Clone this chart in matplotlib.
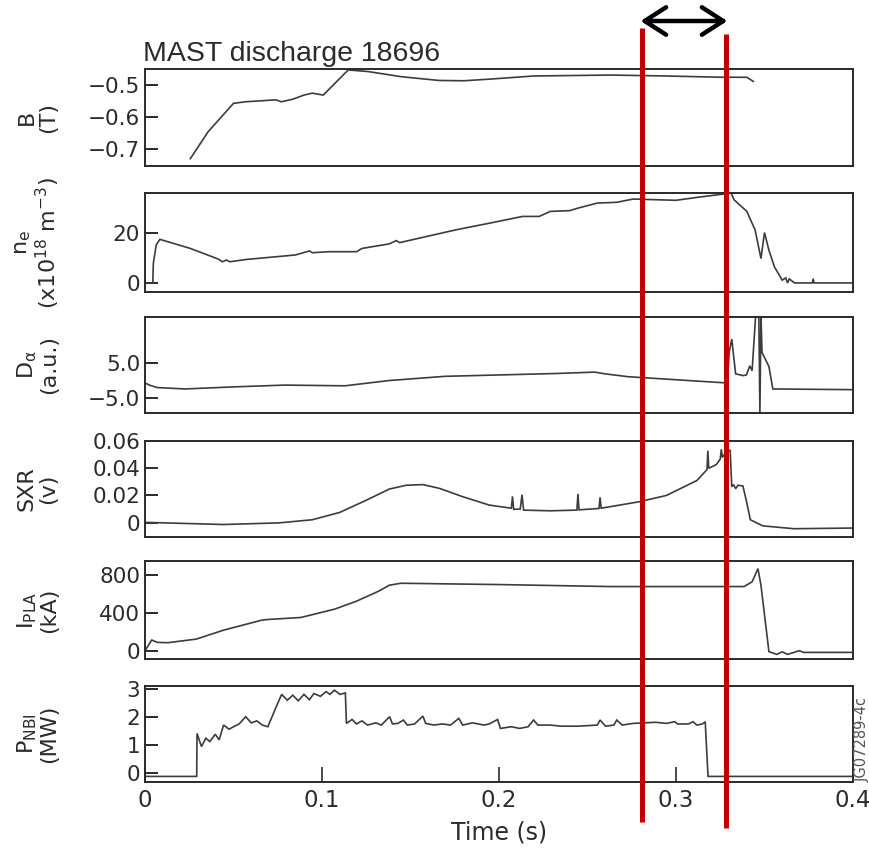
import matplotlib
matplotlib.use("Agg")
import matplotlib.pyplot as plt
from matplotlib.transforms import blended_transform_factory
from matplotlib.lines import Line2D

# ---- toroidal field B (T) ----
b_time = [0.0256, 0.0357, 0.050, 0.057, 0.074, 0.077, 0.0835, 0.0898, 0.0945, 0.1007,
          0.1148, 0.126, 0.1445, 0.166, 0.180, 0.1945, 0.2195, 0.263, 0.2946, 0.326, 0.340, 0.3437]
b_field = [-0.732, -0.647, -0.558, -0.553, -0.547, -0.553, -0.545, -0.532, -0.526, -0.532,
           -0.453, -0.458, -0.474, -0.486, -0.487, -0.482, -0.472, -0.469, -0.472, -0.476, -0.476, -0.489]

# ---- line-averaged density (1e18 m^-3) ----
ne_time = [0.0, 0.0044, 0.0047, 0.0063, 0.0084, 0.0256, 0.0413, 0.0438, 0.046, 0.048, 0.057,
           0.0694, 0.085, 0.093, 0.0945, 0.104, 0.1195, 0.1226, 0.138, 0.142, 0.1439, 0.157,
           0.1758, 0.1945, 0.2133, 0.2227, 0.229, 0.240, 0.2446, 0.2555, 0.2665, 0.2758, 0.300,
           0.3134, 0.326, 0.331, 0.3328, 0.340, 0.3447, 0.348, 0.350, 0.3525, 0.3556, 0.360,
           0.362, 0.363, 0.364, 0.367, 0.377, 0.3775, 0.378, 0.400]
ne_vals = [0.0, 0.0, 7.7, 15.0, 17.3, 13.7, 9.5, 8.4, 9.1, 8.4, 9.3,
           10.1, 11.1, 12.7, 12.0, 12.4, 12.4, 13.7, 15.5, 16.8, 16.0, 18.1,
           21.1, 23.7, 26.4, 26.4, 28.4, 28.7, 29.7, 31.7, 32.0, 33.3, 32.8,
           34.1, 35.2, 35.8, 33.0, 28.4, 21.0, 9.7, 20.0, 13.0, 6.4, 1.1,
           2.0, 0.0, 1.6, 0.0, 0.0, 1.7, 0.0, 0.0]

# ---- D-alpha (a.u.) ----
da_time = [0.0, 0.003, 0.0069, 0.0225, 0.0507, 0.0788, 0.113, 0.138, 0.1695, 0.2008, 0.232,
           0.254, 0.260, 0.2727, 0.2946, 0.3290, 0.3300, 0.3315, 0.3337, 0.338, 0.3398, 0.3417,
           0.3430, 0.3450, 0.3468, 0.3474, 0.3480, 0.3486, 0.3525, 0.3547, 0.400]
da_vals = [-0.7, -1.4, -2.0, -2.4, -1.8, -1.3, -1.5, 0.0, 1.2, 1.6, 2.0,
           2.4, 1.9, 1.1, 0.4, -0.7, 8.0, 11.8, 1.9, 1.4, 1.6, 4.2,
           2.8, 18.5, 18.5, -9.3, 18.5, 8.0, 4.0, -2.4, -2.6]

# ---- soft X-ray (V) ----
sxr_time = [0.0, 0.0444, 0.0757, 0.0945, 0.110, 0.1257, 0.138, 0.1476, 0.157, 0.1664, 0.179,
            0.1945, 0.2070, 0.2076, 0.2083, 0.2120, 0.2130, 0.2139, 0.229, 0.2440, 0.2446,
            0.2452, 0.2565, 0.2571, 0.2577, 0.279, 0.2946, 0.3118, 0.3175, 0.3180, 0.3185,
            0.3228, 0.3250, 0.3256, 0.3262, 0.3284, 0.3306, 0.3315, 0.3325, 0.3337, 0.3350,
            0.3378, 0.340, 0.342, 0.349, 0.3666, 0.400]
sxr_vals = [0.0002, -0.0014, -0.0002, 0.0021, 0.0075, 0.0169, 0.0247, 0.0275, 0.0280, 0.0252, 0.0193,
            0.0129, 0.0106, 0.0193, 0.0098, 0.0100, 0.0205, 0.0092, 0.0087, 0.0092, 0.0212,
            0.0094, 0.0104, 0.0186, 0.0106, 0.0153, 0.0200, 0.0310, 0.0390, 0.0530, 0.0400,
            0.0428, 0.0468, 0.0540, 0.0480, 0.0522, 0.0534, 0.0264, 0.0280, 0.0250, 0.0275,
            0.0270, 0.0146, 0.0021, -0.0024, -0.0045, -0.0040]

# ---- plasma current (kA) ----
ip_time = [0.0, 0.0038, 0.0069, 0.013, 0.029, 0.0444, 0.066, 0.0694, 0.088, 0.107, 0.1195,
           0.132, 0.138, 0.1445, 0.157, 0.2008, 0.263, 0.3384, 0.343, 0.3463, 0.348, 0.3525,
           0.357, 0.360, 0.363, 0.3697, 0.372, 0.400]
ip_vals = [0, 113, 88, 85, 123, 218, 324, 331, 352, 440, 525,
           631, 694, 715, 712, 701, 680, 680, 730, 870, 694, -10,
           -39, -12, -39, 0, -18, -18]

# ---- neutral beam power (MW) ----
nbi_time = [0.0, 0.0292, 0.0294, 0.0319, 0.0344, 0.0366, 0.0397, 0.0419, 0.0444, 0.0475, 0.0500,
            0.0532, 0.0569, 0.0600, 0.0632, 0.0663, 0.0694, 0.0741, 0.0772, 0.0804, 0.0835,
            0.0866, 0.0898, 0.0929, 0.0954, 0.0991, 0.1023, 0.1045, 0.1070, 0.1101, 0.1132,
            0.1138, 0.1170, 0.1195, 0.1226, 0.1257, 0.1304, 0.1335, 0.1382, 0.1398, 0.1429,
            0.1460, 0.1482, 0.1523, 0.1570, 0.1586, 0.1632, 0.1679, 0.1726, 0.1773, 0.1795,
            0.1851, 0.1914, 0.1945, 0.1992, 0.2008, 0.2070, 0.2117, 0.2164, 0.2195, 0.2220,
            0.2289, 0.2352, 0.2446, 0.2555, 0.2571, 0.2602, 0.2649, 0.2665, 0.2696, 0.2758,
            0.2821, 0.2884, 0.2946, 0.2993, 0.3009, 0.3071, 0.3096, 0.3118, 0.3149, 0.3165,
            0.3181, 0.400]
nbi_vals = [-0.12, -0.12, 1.42, 0.95, 1.25, 1.13, 1.39, 1.19, 1.72, 1.57, 1.66,
            1.76, 2.02, 1.80, 1.87, 1.72, 1.66, 2.37, 2.82, 2.61, 2.79,
            2.59, 2.82, 2.63, 2.85, 2.75, 2.92, 2.82, 2.97, 2.82, 2.87,
            1.78, 1.92, 1.76, 1.87, 1.72, 1.80, 1.72, 2.02, 1.76, 1.78,
            1.90, 1.72, 1.76, 2.04, 1.78, 1.72, 1.76, 1.72, 1.96, 1.72,
            1.80, 1.72, 1.76, 1.92, 1.60, 1.66, 1.60, 1.66, 1.90, 1.72,
            1.72, 1.68, 1.68, 1.72, 1.90, 1.68, 1.72, 1.90, 1.72, 1.78,
            1.80, 1.82, 1.78, 1.84, 1.76, 1.76, 1.84, 1.72, 1.76, 1.84,
            -0.12, -0.12]

# ---- axis labels and ticks ----
time_ticks = [0, 0.1, 0.2, 0.3, 0.4]
time_ticklabels = ["0", "0.1", "0.2", "0.3", "0.4"]
marker_times = [0.281, 0.328]

panels = [
    dict(t=b_time, y=b_field, ylim=(-0.755, -0.45), ticks=[-0.5, -0.6, -0.7],
         labels=["\u22120.5", "\u22120.6", "\u22120.7"], ylabel="B\n(T)"),
    dict(t=ne_time, y=ne_vals, ylim=(-3.6, 35.7), ticks=[0, 20], labels=["0", "20"],
         ylabel=r"$\mathrm{n_e}$" + "\n" + r"(x10$^{18}$ m$^{-3}$)"),
    dict(t=da_time, y=da_vals, ylim=(-9.25, 18.1), ticks=[5.0, -5.0], labels=["5.0", "\u22125.0"],
         ylabel=r"$\mathrm{D_{\alpha}}$" + "\n(a.u.)"),
    dict(t=sxr_time, y=sxr_vals, ylim=(-0.0106, 0.0601), ticks=[0, 0.02, 0.04, 0.06],
         labels=["0", "0.02", "0.04", "0.06"], ylabel="SXR\n(v)"),
    dict(t=ip_time, y=ip_vals, ylim=(-88, 951), ticks=[0, 400, 800], labels=["0", "400", "800"],
         ylabel=r"$\mathrm{I_{PLA}}$" + "\n(kA)"),
    dict(t=nbi_time, y=nbi_vals, ylim=(-0.32, 3.12), ticks=[0, 1, 2, 3], labels=["0", "1", "2", "3"],
         ylabel=r"$\mathrm{P_{NBI}}$" + "\n(MW)"),
]

plt.rcParams["font.family"] = ["DejaVu Sans"]
plt.rcParams["mathtext.fontset"] = "dejavusans"

W, H = 870, 849
fig = plt.figure(figsize=(W / 100, H / 100), dpi=100)

# panel boxes in pixels (top, bottom), shared left/right edges
panel_px = [(69, 166), (193, 292), (317, 413), (441, 537), (561, 659), (686, 782)]
left_px, right_px = 145, 853

ink = "#2b2b2b"
trace = "#3c3c3c"

axes = []
for (top, bot), p in zip(panel_px, panels):
    ax = fig.add_axes([left_px / W, 1 - bot / H, (right_px - left_px) / W, (bot - top) / H])
    ax.plot(p["t"], p["y"], color=trace, lw=1.2, solid_joinstyle="miter")
    ax.set_xlim(0, 0.4)
    ax.set_ylim(*p["ylim"])
    ax.set_yticks(p["ticks"])
    ax.set_yticklabels(p["labels"])
    ax.tick_params(axis="y", direction="in", length=9.5, width=1.4, colors=ink,
                   labelsize=15.5, pad=3.5)
    ax.tick_params(axis="x", bottom=False, labelbottom=False)
    for s in ax.spines.values():
        s.set_linewidth(1.4)
        s.set_color("#2a2a2a")
    ax.set_ylabel(p["ylabel"], fontsize=16, color=ink, linespacing=1.05,
                  va="center", ha="center", multialignment="center")
    ax.yaxis.set_label_coords(-0.152, 0.5)
    axes.append(ax)

bottom_ax = axes[-1]
bottom_ax.set_xticks(time_ticks)
bottom_ax.set_xticklabels(time_ticklabels)
bottom_ax.tick_params(axis="x", bottom=True, labelbottom=True, direction="in", length=11,
                      width=1.2, colors=ink, labelsize=16.5, pad=5)
bottom_ax.set_xlabel("Time (s)", fontsize=17, color=ink, labelpad=6)

axes[0].set_title("MAST discharge 18696", loc="left", fontsize=20.5, color=ink,
                  family="Liberation Sans", pad=6, x=-0.003)

# vertical markers across the stack and the interval arrow above them
trans = blended_transform_factory(bottom_ax.transData, fig.transFigure)
marker_span = [(1 - 28 / H, 1 - 822 / H), (1 - 34 / H, 1 - 828 / H)]
for t, (ytop, ybot) in zip(marker_times, marker_span):
    fig.add_artist(Line2D([t, t], [ybot, ytop], transform=trans, color="#c40000",
                          lw=3.6, solid_capstyle="butt"))

arrow_y = 1 - 21 / H
fig.add_artist(matplotlib.patches.FancyArrowPatch(
    (marker_times[0] - 0.001, arrow_y), (marker_times[1] + 0.001, arrow_y), transform=trans,
    arrowstyle="<->,head_length=0.7,head_width=0.45", mutation_scale=22,
    lw=3.2, color="black", shrinkA=0, shrinkB=0, capstyle="round", joinstyle="round"))

fig.text(862 / W, 1 - 740 / H, "JG07289-4c", rotation=90, fontsize=10.5, color="#555555",
         ha="center", va="center")

fig.savefig("out.png", dpi=100)
